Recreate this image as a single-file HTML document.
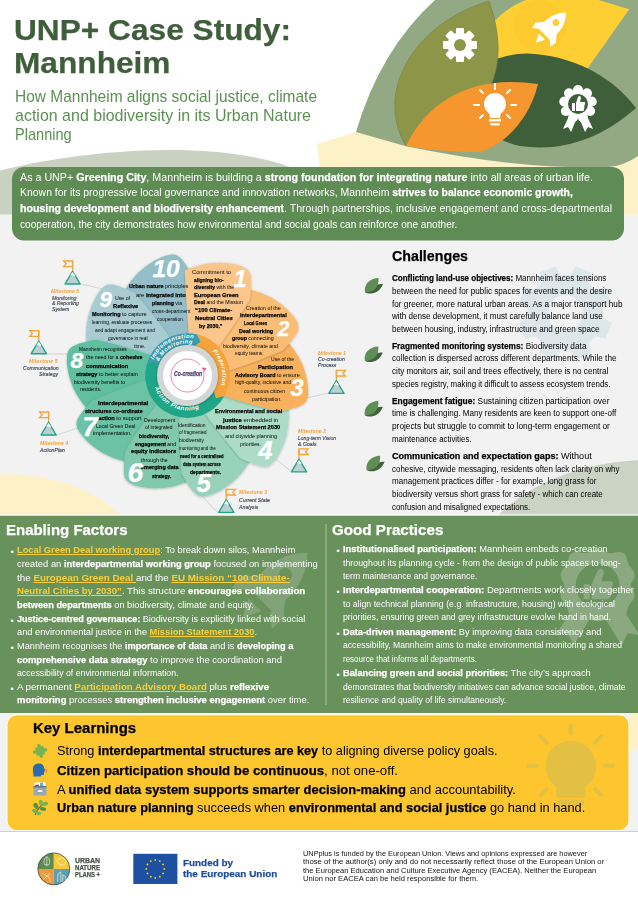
<!DOCTYPE html>
<html><head><meta charset="utf-8">
<style>
*{margin:0;padding:0;box-sizing:border-box}
html,body{width:638px;height:900px;overflow:hidden;background:#fff}
body{position:relative;font-family:"Liberation Sans",sans-serif;color:#111}
.ln{position:absolute;white-space:nowrap;transform-origin:0 0;line-height:1}
b{font-weight:bold;-webkit-text-stroke:0.25px currentColor}
.lk{color:#fccf3a;font-weight:bold;text-decoration:underline;text-decoration-thickness:1px;text-underline-offset:1px}
svg.full{position:absolute;left:0;top:0}
.bul{position:absolute;color:#fff;font-size:9px;line-height:1}
</style></head><body>
<svg class="full" width="638" height="900" viewBox="0 0 638 900">
  <rect x="0" y="214.5" width="638" height="301" fill="#f2f2f2"/>
  <path d="M0 170.5 C60 155 200 135 290 167 L300 214.5 L0 214.5 Z" fill="#c9d1c1"/>
  <path d="M317 144 L356 132 L638 120 L638 214.5 L325 214.5 Z" fill="#fdf1c8"/>
  <path d="M435 0 L638 0 L638 156 Q624 166 608 167 Q520 170 405 146 L356 132 Q380 50 435 0 Z" fill="#93a984"/>
  <ellipse cx="5" cy="560" rx="135" ry="86" fill="#fdf1c8"/>
  <ellipse cx="650" cy="580" rx="180" ry="120" fill="#cbd3c4"/>
  <rect x="0" y="515.5" width="638" height="197.5" fill="#69915c"/>
  <rect x="0" y="514.3" width="638" height="1.2" fill="#fbfbfd"/>
  <rect x="0" y="713" width="638" height="118" fill="#f2f2f2"/>
  <rect x="0" y="830.5" width="638" height="70" fill="#fff"/>
  <path d="M629 713 L638 713 L638 748 L629 753 Z" fill="#fdf1c8"/>
  <rect x="0" y="830.8" width="638" height="1.2" fill="#cfcfcf"/>
  <rect x="7" y="714.8" width="622" height="115.8" rx="10" fill="#fec62e" stroke="#fff" stroke-width="1"/>
  <rect x="12" y="167" width="612" height="73.6" rx="12" fill="#5e8c54"/>
  <line x1="326" y1="524" x2="326" y2="705" stroke="#a9bf9f" stroke-width="1"/>
</svg>
<svg class="full" width="638" height="900" viewBox="0 0 638 900">
  <!-- yellow leaf -->
  <defs><clipPath id="ylc"><path d="M480 40 C495 16 510 6 531 -2 L592 -2 L629.2 9.2 L585 72 L480 80 Z"/></clipPath></defs>
  <path d="M480 40 C495 16 510 6 531 -2 L592 -2 L629.2 9.2 L585 72 L480 80 Z" fill="#fdcf33"/>
  <circle cx="540" cy="26.3" r="26" fill="#fdca2f" clip-path="url(#ylc)"/>
  <!-- dark green leaf -->
  <path d="M470 70 C500 55 520 52 535 54 C580 58 615 80 636 108 C600 140 560 152 520 146 C490 140 470 120 470 70 Z" fill="#3f5e3a"/>
  <!-- olive leaf -->
  <path d="M489 1 C410 25 375 95 406 146 C500 120 510 60 489 1 Z" fill="#8d9549" stroke="#737a3e" stroke-width="0.5"/>
  <!-- orange leaf -->
  <path d="M406 146 C430 95 480 75 538 84 C530 118 505 145 480 152 C455 152 430 150 406 146 Z" fill="#f5962f"/>
  <!-- gear -->
  <g transform="translate(460 45)" fill="#fff">
    <g id="gt">
      <rect x="-4" y="-17" width="8" height="8" rx="1"/>
    </g>
    <g transform="rotate(45)">
      <rect x="-4" y="-17" width="8" height="8" rx="1"/>
    </g><g transform="rotate(90)">
      <rect x="-4" y="-17" width="8" height="8" rx="1"/>
    </g><g transform="rotate(135)">
      <rect x="-4" y="-17" width="8" height="8" rx="1"/>
    </g>
    <g transform="rotate(180)">
      <rect x="-4" y="-17" width="8" height="8" rx="1"/>
    </g><g transform="rotate(225)">
      <rect x="-4" y="-17" width="8" height="8" rx="1"/>
    </g><g transform="rotate(270)">
      <rect x="-4" y="-17" width="8" height="8" rx="1"/>
    </g><g transform="rotate(315)">
      <rect x="-4" y="-17" width="8" height="8" rx="1"/>
    </g>
    <circle r="12.5"/>
    <circle r="6" fill="#8d9549"/>
  </g>
  <!-- rocket -->
  <g transform="translate(550.5 28) rotate(45) scale(1.1)" fill="#fff">
    <path d="M0 -20 C8 -12 9 -2 7 8 L-7 8 C-9 -2 -8 -12 0 -20 Z"/>
    <circle cy="-7" r="3" fill="#fdcf33"/>
    <path d="M-7 -1 L-13 6 L-12 12 L-7 8 Z"/>
    <path d="M7 -1 L13 6 L12 12 L7 8 Z"/>
    <path d="M-4 11 L4 11 L0 19 Z"/>
  </g>
  <!-- bulb -->
  <g transform="translate(495 105)" fill="#fff" stroke="#fff">
    <circle cx="0" cy="-1" r="11" stroke="none"/>
    <path d="M-6 6 L6 6 L5 13 L-5 13 Z" stroke="none"/>
    <rect x="-6" y="14" width="12" height="2.5" stroke="none"/>
    <rect x="-4.5" y="18" width="9" height="2.5" stroke="none"/>
    <g stroke-width="2" stroke-linecap="round">
      <line x1="0" y1="-16" x2="0" y2="-21"/>
      <line x1="-12" y1="-12" x2="-15" y2="-15"/>
      <line x1="12" y1="-12" x2="15" y2="-15"/>
      <line x1="-16" y1="0" x2="-21" y2="0"/>
      <line x1="16" y1="0" x2="21" y2="0"/>
      <line x1="-12" y1="10" x2="-15" y2="13"/>
      <line x1="12" y1="10" x2="15" y2="13"/>
    </g>
  </g>
  <!-- award -->
  <g transform="translate(578 104)" fill="#fff">
    <path d="M-9 12 L-15 25 L-10 23 L-7 28 L-2 16 Z"/>
    <path d="M9 12 L15 25 L10 23 L7 28 L2 16 Z"/>
    <g id="sc"><circle cx="0" cy="-14" r="5"/></g>
    <g transform="rotate(40)"><circle cx="0" cy="-14" r="5"/></g><g transform="rotate(80)"><circle cx="0" cy="-14" r="5"/></g><g transform="rotate(120)"><circle cx="0" cy="-14" r="5"/></g><g transform="rotate(160)"><circle cx="0" cy="-14" r="5"/></g><g transform="rotate(200)"><circle cx="0" cy="-14" r="5"/></g><g transform="rotate(240)"><circle cx="0" cy="-14" r="5"/></g><g transform="rotate(280)"><circle cx="0" cy="-14" r="5"/></g><g transform="rotate(320)"><circle cx="0" cy="-14" r="5"/></g>
    <circle r="14"/>
    <circle r="10" fill="#3f5e3a"/>
    <path d="M-6 -1 L-3 -1 L-3 7 L-6 7 Z M-2 -1 L0 -7 C1 -9 3 -8 3 -6 L2 -2 L6 -2 C7.5 -2 7.5 0 6.5 1 L6 6 C5.5 7 5 7 4 7 L-2 7 Z"/>
  </g>
</svg>
<svg class="full" width="638" height="900" viewBox="0 0 638 900">
<defs><filter id="sh" x="-20%" y="-20%" width="140%" height="140%"><feDropShadow dx="0" dy="0.6" stdDeviation="1.1" flood-color="#000" flood-opacity="0.28"/></filter><filter id="sh2" x="-20%" y="-20%" width="140%" height="140%"><feDropShadow dx="0" dy="0.5" stdDeviation="1.5" flood-color="#000" flood-opacity="0.35"/></filter></defs>
<line x1="81" y1="284" x2="103" y2="289" stroke="#c4c6c6" stroke-width="0.7"/>
<line x1="47" y1="354" x2="68" y2="354" stroke="#c4c6c6" stroke-width="0.7"/>
<line x1="56.4" y1="435" x2="78" y2="428" stroke="#c4c6c6" stroke-width="0.7"/>
<line x1="218" y1="513" x2="200" y2="494" stroke="#c4c6c6" stroke-width="0.7"/>
<line x1="292" y1="472" x2="272" y2="456" stroke="#c4c6c6" stroke-width="0.7"/>
<line x1="328" y1="393" x2="303" y2="399" stroke="#c4c6c6" stroke-width="0.7"/>
<path d="M171.6 350.1 Q142.4 315.6 123.6 292.2 L123.6 292.2 L124.1 291.3 L124.7 290.2 L125.6 288.9 L126.5 287.4 L127.5 285.8 L128.6 284.2 L129.8 282.7 L130.8 281.2 L131.9 279.8 L133.0 278.5 L134.2 277.1 L135.4 275.8 L136.6 274.4 L137.9 273.1 L139.3 271.8 L140.7 270.4 L142.3 269.1 L143.9 267.8 L145.6 266.5 L147.3 265.2 L149.1 263.9 L151.0 262.7 L152.8 261.6 L154.6 260.6 L156.3 259.7 L158.2 258.8 L160.0 257.9 L161.8 257.1 L163.6 256.4 L165.3 255.8 L166.9 255.4 L168.4 255.0 L169.8 254.8 L171.0 254.6 L172.1 254.5 L173.2 254.5 L174.2 254.6 L175.1 254.8 L176.1 255.1 L177.0 255.5 L177.9 255.9 L178.8 256.5 L179.6 257.2 L180.4 258.0 L181.2 258.8 L182.0 259.7 L182.7 260.6 L183.5 261.6 L184.3 262.6 L185.1 263.6 L185.9 264.8 L186.6 266.0 L187.3 267.2 L188.0 268.3 L188.7 269.5 L189.3 270.5 L189.9 271.5 L190.6 272.6 L191.1 273.6 L191.7 274.7 L192.2 275.6 L192.7 276.4 L193.0 277.1 L193.3 277.7 Q196.1 314.1 195.5 334.3 L192.7 346.0 Z" fill="#95bfc8" filter="url(#sh)"/>
<path d="M159.7 364.3 Q115.8 353.6 86.8 345.7 L86.8 345.7 L86.7 344.7 L86.6 343.4 L86.5 341.8 L86.3 340.1 L86.3 338.2 L86.2 336.2 L86.2 334.3 L86.2 332.5 L86.3 330.8 L86.4 329.0 L86.5 327.2 L86.7 325.5 L86.9 323.6 L87.2 321.8 L87.5 319.9 L87.9 318.0 L88.4 316.0 L88.9 314.0 L89.5 311.9 L90.2 309.8 L90.9 307.8 L91.7 305.8 L92.5 303.8 L93.3 301.9 L94.2 300.1 L95.2 298.3 L96.1 296.5 L97.1 294.8 L98.2 293.2 L99.2 291.7 L100.2 290.4 L101.2 289.2 L102.2 288.2 L103.1 287.4 L104.0 286.7 L104.8 286.1 L105.7 285.6 L106.5 285.1 L107.5 284.8 L108.4 284.6 L109.5 284.4 L110.5 284.4 L111.6 284.4 L112.7 284.6 L113.8 284.8 L115.0 285.1 L116.1 285.4 L117.3 285.7 L118.5 286.0 L119.8 286.4 L121.1 286.9 L122.4 287.4 L123.7 287.9 L125.0 288.5 L126.2 289.0 L127.3 289.5 L128.4 290.0 L129.5 290.5 L130.6 291.0 L131.6 291.4 L132.6 291.9 L133.4 292.3 L134.2 292.7 L134.7 292.9 Q158.4 320.8 169.8 337.4 L174.3 348.5 Z" fill="#a9cbd2" filter="url(#sh)"/>
<path d="M158.4 382.8 Q116.6 399.9 88.5 410.5 L88.5 410.5 L87.9 409.8 L87.0 408.8 L86.0 407.6 L84.8 406.3 L83.7 404.8 L82.5 403.3 L81.4 401.7 L80.3 400.2 L79.4 398.8 L78.4 397.3 L77.5 395.8 L76.5 394.3 L75.6 392.7 L74.8 391.0 L73.9 389.3 L73.1 387.5 L72.3 385.7 L71.6 383.7 L70.9 381.7 L70.2 379.6 L69.5 377.5 L69.0 375.4 L68.5 373.3 L68.1 371.3 L67.7 369.3 L67.4 367.3 L67.2 365.3 L67.0 363.4 L66.9 361.5 L66.8 359.6 L66.9 358.0 L67.0 356.4 L67.2 355.0 L67.4 353.8 L67.7 352.7 L68.0 351.7 L68.4 350.8 L68.9 350.0 L69.4 349.2 L70.1 348.4 L70.8 347.7 L71.7 347.0 L72.6 346.4 L73.6 345.9 L74.6 345.4 L75.7 345.0 L76.8 344.5 L77.9 344.1 L79.1 343.6 L80.4 343.2 L81.7 342.8 L83.1 342.5 L84.4 342.2 L85.7 341.9 L87.0 341.6 L88.2 341.3 L89.4 341.1 L90.6 340.8 L91.8 340.6 L92.9 340.3 L93.9 340.1 L94.9 340.0 L95.7 339.8 L96.3 339.7 Q131.8 348.3 150.8 355.1 L161.0 361.4 Z" fill="#5ebf9f" filter="url(#sh)"/>
<path d="M168.2 398.5 Q144.5 436.9 128.0 462.0 L128.0 462.0 L127.1 461.8 L125.8 461.5 L124.2 461.2 L122.5 460.8 L120.7 460.3 L118.9 459.7 L117.0 459.1 L115.3 458.5 L113.7 457.9 L112.1 457.3 L110.4 456.6 L108.8 455.9 L107.1 455.1 L105.4 454.3 L103.7 453.4 L102.0 452.5 L100.3 451.4 L98.5 450.3 L96.8 449.1 L95.0 447.8 L93.2 446.5 L91.6 445.1 L89.9 443.7 L88.4 442.3 L87.0 440.9 L85.6 439.5 L84.2 438.0 L82.9 436.5 L81.7 435.0 L80.6 433.6 L79.6 432.2 L78.8 430.9 L78.1 429.7 L77.6 428.5 L77.2 427.5 L76.9 426.5 L76.7 425.5 L76.5 424.6 L76.5 423.6 L76.6 422.6 L76.7 421.5 L77.0 420.5 L77.4 419.5 L77.9 418.5 L78.5 417.5 L79.1 416.5 L79.7 415.5 L80.4 414.5 L81.1 413.4 L81.9 412.4 L82.7 411.3 L83.6 410.2 L84.5 409.1 L85.4 408.1 L86.3 407.1 L87.1 406.2 L87.9 405.3 L88.7 404.4 L89.5 403.5 L90.3 402.7 L91.0 401.9 L91.7 401.2 L92.2 400.6 L92.7 400.2 Q126.4 386.3 145.8 380.6 L157.8 379.7 Z" fill="#6cc2a5" filter="url(#sh)"/>
<path d="M185.4 405.4 Q188.8 450.5 190.2 480.5 L190.2 480.5 L189.3 480.9 L188.1 481.4 L186.7 482.0 L185.0 482.7 L183.3 483.3 L181.5 484.0 L179.6 484.6 L177.9 485.1 L176.2 485.6 L174.5 486.0 L172.8 486.4 L171.0 486.8 L169.3 487.2 L167.4 487.5 L165.5 487.8 L163.6 488.0 L161.6 488.2 L159.5 488.3 L157.3 488.3 L155.1 488.4 L152.9 488.3 L150.8 488.2 L148.7 488.0 L146.6 487.8 L144.6 487.5 L142.6 487.2 L140.6 486.8 L138.7 486.4 L136.9 485.9 L135.1 485.4 L133.5 484.8 L132.1 484.2 L130.9 483.6 L129.8 483.0 L128.8 482.4 L128.0 481.8 L127.2 481.1 L126.6 480.4 L126.0 479.6 L125.4 478.8 L125.0 477.9 L124.6 476.9 L124.3 475.8 L124.1 474.7 L124.0 473.6 L123.9 472.4 L123.8 471.2 L123.8 470.0 L123.7 468.7 L123.7 467.4 L123.8 466.0 L123.8 464.6 L123.9 463.2 L124.1 461.9 L124.2 460.6 L124.3 459.4 L124.4 458.2 L124.5 457.0 L124.7 455.8 L124.8 454.6 L125.0 453.6 L125.1 452.6 L125.2 451.8 L125.3 451.2 Q144.4 420.1 156.8 404.1 L165.9 396.3 Z" fill="#80c8ae" filter="url(#sh)"/>
<path d="M203.4 400.9 Q232.6 435.4 251.4 458.8 L251.4 458.8 L250.9 459.7 L250.3 460.8 L249.4 462.1 L248.5 463.6 L247.5 465.2 L246.4 466.8 L245.2 468.3 L244.2 469.8 L243.1 471.2 L242.0 472.5 L240.8 473.9 L239.6 475.2 L238.4 476.6 L237.1 477.9 L235.7 479.2 L234.3 480.6 L232.7 481.9 L231.1 483.2 L229.4 484.5 L227.7 485.8 L225.9 487.1 L224.0 488.3 L222.2 489.4 L220.4 490.4 L218.7 491.3 L216.8 492.2 L215.0 493.1 L213.2 493.9 L211.4 494.6 L209.7 495.2 L208.1 495.6 L206.6 496.0 L205.2 496.2 L204.0 496.4 L202.9 496.5 L201.8 496.5 L200.8 496.4 L199.9 496.2 L198.9 495.9 L198.0 495.5 L197.1 495.1 L196.2 494.5 L195.4 493.8 L194.6 493.0 L193.8 492.2 L193.0 491.3 L192.3 490.4 L191.5 489.4 L190.7 488.4 L189.9 487.4 L189.1 486.2 L188.4 485.0 L187.7 483.8 L187.0 482.7 L186.3 481.5 L185.7 480.5 L185.1 479.5 L184.4 478.4 L183.9 477.4 L183.3 476.3 L182.8 475.4 L182.3 474.6 L182.0 473.9 L181.7 473.3 Q178.9 436.9 179.5 416.7 L182.3 405.0 Z" fill="#98d2bb" filter="url(#sh)"/>
<path d="M215.3 386.7 Q259.2 397.4 288.2 405.3 L288.2 405.3 L288.3 406.3 L288.4 407.6 L288.5 409.2 L288.7 410.9 L288.7 412.8 L288.8 414.8 L288.8 416.7 L288.8 418.5 L288.7 420.2 L288.6 422.0 L288.5 423.8 L288.3 425.5 L288.1 427.4 L287.8 429.2 L287.5 431.1 L287.1 433.0 L286.6 435.0 L286.1 437.0 L285.5 439.1 L284.8 441.2 L284.1 443.2 L283.3 445.2 L282.5 447.2 L281.7 449.1 L280.8 450.9 L279.8 452.7 L278.9 454.5 L277.9 456.2 L276.8 457.8 L275.8 459.3 L274.8 460.6 L273.8 461.8 L272.8 462.8 L271.9 463.6 L271.0 464.3 L270.2 464.9 L269.3 465.4 L268.5 465.9 L267.5 466.2 L266.6 466.4 L265.5 466.6 L264.5 466.6 L263.4 466.6 L262.3 466.4 L261.2 466.2 L260.0 465.9 L258.9 465.6 L257.7 465.3 L256.5 465.0 L255.2 464.6 L253.9 464.1 L252.6 463.6 L251.3 463.1 L250.0 462.5 L248.8 462.0 L247.7 461.5 L246.6 461.0 L245.5 460.5 L244.4 460.0 L243.4 459.6 L242.4 459.1 L241.6 458.7 L240.8 458.3 L240.3 458.1 Q216.6 430.2 205.2 413.6 L200.7 402.5 Z" fill="#acdbc8" filter="url(#sh)"/>
<path d="M216.6 368.2 Q258.4 351.1 286.5 340.5 L286.5 340.5 L287.1 341.2 L288.0 342.2 L289.0 343.4 L290.2 344.7 L291.3 346.2 L292.5 347.7 L293.6 349.3 L294.7 350.8 L295.6 352.2 L296.6 353.7 L297.5 355.2 L298.5 356.7 L299.4 358.3 L300.2 360.0 L301.1 361.7 L301.9 363.5 L302.7 365.3 L303.4 367.3 L304.1 369.3 L304.8 371.4 L305.5 373.5 L306.0 375.6 L306.5 377.7 L306.9 379.7 L307.3 381.7 L307.6 383.7 L307.8 385.7 L308.0 387.6 L308.1 389.5 L308.2 391.4 L308.1 393.0 L308.0 394.6 L307.8 396.0 L307.6 397.2 L307.3 398.3 L307.0 399.3 L306.6 400.2 L306.1 401.0 L305.6 401.8 L304.9 402.6 L304.2 403.3 L303.3 404.0 L302.4 404.6 L301.4 405.1 L300.4 405.6 L299.3 406.0 L298.2 406.5 L297.1 406.9 L295.9 407.4 L294.6 407.8 L293.3 408.2 L291.9 408.5 L290.6 408.8 L289.3 409.1 L288.0 409.4 L286.8 409.7 L285.6 409.9 L284.4 410.2 L283.2 410.4 L282.1 410.7 L281.1 410.9 L280.1 411.0 L279.3 411.2 L278.7 411.3 Q243.2 402.7 224.2 395.9 L214.0 389.6 Z" fill="#f7b15d" filter="url(#sh)"/>
<path d="M206.8 352.5 Q230.5 314.1 247.0 289.0 L247.0 289.0 L247.9 289.2 L249.2 289.5 L250.8 289.8 L252.5 290.2 L254.3 290.7 L256.1 291.3 L258.0 291.9 L259.7 292.5 L261.3 293.1 L262.9 293.7 L264.6 294.4 L266.2 295.1 L267.9 295.9 L269.6 296.7 L271.3 297.6 L273.0 298.5 L274.7 299.6 L276.5 300.7 L278.2 301.9 L280.0 303.2 L281.8 304.5 L283.4 305.9 L285.1 307.3 L286.6 308.7 L288.0 310.1 L289.4 311.5 L290.8 313.0 L292.1 314.5 L293.3 316.0 L294.4 317.4 L295.4 318.8 L296.2 320.1 L296.9 321.3 L297.4 322.5 L297.8 323.5 L298.1 324.5 L298.3 325.5 L298.5 326.4 L298.5 327.4 L298.4 328.4 L298.3 329.5 L298.0 330.5 L297.6 331.5 L297.1 332.5 L296.5 333.5 L295.9 334.5 L295.3 335.5 L294.6 336.5 L293.9 337.6 L293.1 338.6 L292.3 339.7 L291.4 340.8 L290.5 341.9 L289.6 342.9 L288.7 343.9 L287.9 344.8 L287.1 345.7 L286.3 346.6 L285.5 347.5 L284.7 348.3 L284.0 349.1 L283.3 349.8 L282.8 350.4 L282.3 350.8 Q248.6 364.7 229.2 370.4 L217.2 371.3 Z" fill="#f9bd74" filter="url(#sh)"/>
<path d="M189.6 345.6 Q186.2 300.5 184.8 270.5 L184.8 270.5 L185.7 270.1 L186.9 269.6 L188.3 269.0 L190.0 268.3 L191.7 267.7 L193.5 267.0 L195.4 266.4 L197.1 265.9 L198.8 265.4 L200.5 265.0 L202.2 264.6 L204.0 264.2 L205.7 263.8 L207.6 263.5 L209.5 263.2 L211.4 263.0 L213.4 262.8 L215.5 262.7 L217.7 262.7 L219.9 262.6 L222.1 262.7 L224.2 262.8 L226.3 263.0 L228.4 263.2 L230.4 263.5 L232.4 263.8 L234.4 264.2 L236.3 264.6 L238.1 265.1 L239.9 265.6 L241.5 266.2 L242.9 266.8 L244.1 267.4 L245.2 268.0 L246.2 268.6 L247.0 269.2 L247.8 269.9 L248.4 270.6 L249.0 271.4 L249.6 272.2 L250.0 273.1 L250.4 274.1 L250.7 275.2 L250.9 276.3 L251.0 277.4 L251.1 278.6 L251.2 279.8 L251.2 281.0 L251.3 282.3 L251.3 283.6 L251.2 285.0 L251.2 286.4 L251.1 287.8 L250.9 289.1 L250.8 290.4 L250.7 291.6 L250.6 292.8 L250.5 294.0 L250.3 295.2 L250.2 296.4 L250.0 297.4 L249.9 298.4 L249.8 299.2 L249.7 299.8 Q230.6 330.9 218.2 346.9 L209.1 354.7 Z" fill="#fbc68c" filter="url(#sh)"/>
<circle cx="187.5" cy="375.5" r="43" fill="#fff" opacity="0.0"/>
<path d="M224.5 396.0 A42.3 42.3 0 0 1 146.6 364.6 L154.5 360.8 L158.5 367.7 A30 30 0 0 0 213.7 390.0 L216.0 397.8 Z" fill="#1fa686"/>
<path d="M146.6 364.6 A42.3 42.3 0 0 1 197.0 334.3 L201.0 342.0 L194.2 346.3 A30 30 0 0 0 158.5 367.7 L154.5 360.8 Z" fill="#3a9cb0"/>
<path d="M197.0 334.3 A42.3 42.3 0 0 1 224.5 396.0 L216.0 397.8 L213.7 390.0 A30 30 0 0 0 194.2 346.3 L201.0 342.0 Z" fill="#f5a33b"/>
<circle cx="187.5" cy="375.5" r="30.5" fill="#d3d6d6" filter="url(#sh2)"/>
<circle cx="187.5" cy="375.5" r="24.5" fill="#fff"/>
<path d="M203.0 369.9 A16.5 16.5 0 1 1 200.1 364.9" fill="none" stroke="#e9548a" stroke-width="0.7"/>
<path d="M204.5 370.9 l-3 -3.5 l5 0.5 z" fill="#e9548a" transform="rotate(0)"/>
<g style="font-family:&quot;Liberation Sans&quot;,sans-serif;font-weight:bold;font-style:italic;fill:#fff;font-size:5.6px"><text x="153.85" y="358.95" transform="rotate(-63.81 153.85 358.95)" text-anchor="middle">I</text><text x="155.71" y="355.61" transform="rotate(-57.97 155.71 355.61)" text-anchor="middle">m</text><text x="158.47" y="351.76" transform="rotate(-50.72 158.47 351.76)" text-anchor="middle">p</text><text x="160.49" y="349.49" transform="rotate(-46.07 160.49 349.49)" text-anchor="middle">l</text><text x="162.57" y="347.49" transform="rotate(-41.67 162.57 347.49)" text-anchor="middle">e</text><text x="166.18" y="344.65" transform="rotate(-34.64 166.18 344.65)" text-anchor="middle">m</text><text x="170.11" y="342.27" transform="rotate(-27.62 170.11 342.27)" text-anchor="middle">e</text><text x="173.58" y="340.68" transform="rotate(-21.79 173.58 340.68)" text-anchor="middle">n</text><text x="176.59" y="339.62" transform="rotate(-16.91 176.59 339.62)" text-anchor="middle">t</text><text x="179.53" y="338.86" transform="rotate(-12.26 179.53 338.86)" text-anchor="middle">a</text><text x="182.53" y="338.33" transform="rotate(-7.62 182.53 338.33)" text-anchor="middle">t</text><text x="184.78" y="338.10" transform="rotate(-4.17 184.78 338.10)" text-anchor="middle">i</text><text x="187.81" y="338.00" transform="rotate(0.48 187.81 338.00)" text-anchor="middle">o</text><text x="191.77" y="338.24" transform="rotate(6.54 191.77 338.24)" text-anchor="middle">n</text><text x="159.59" y="359.84" transform="rotate(-60.70 159.59 359.84)" text-anchor="middle">&amp;</text><text x="163.67" y="354.15" transform="rotate(-48.14 163.67 354.15)" text-anchor="middle">M</text><text x="166.96" y="350.96" transform="rotate(-39.92 166.96 350.96)" text-anchor="middle">o</text><text x="170.16" y="348.61" transform="rotate(-32.81 170.16 348.61)" text-anchor="middle">n</text><text x="172.79" y="347.08" transform="rotate(-27.37 172.79 347.08)" text-anchor="middle">i</text><text x="174.83" y="346.11" transform="rotate(-23.32 174.83 346.11)" text-anchor="middle">t</text><text x="177.82" y="345.00" transform="rotate(-17.61 177.82 345.00)" text-anchor="middle">o</text><text x="181.06" y="344.15" transform="rotate(-11.61 181.06 344.15)" text-anchor="middle">r</text><text x="183.44" y="343.76" transform="rotate(-7.28 183.44 343.76)" text-anchor="middle">i</text><text x="186.47" y="343.52" transform="rotate(-1.84 186.47 343.52)" text-anchor="middle">n</text><text x="190.44" y="343.64" transform="rotate(5.27 190.44 343.64)" text-anchor="middle">g</text><text x="213.97" y="352.60" transform="rotate(49.13 213.97 352.60)" text-anchor="middle">P</text><text x="216.13" y="355.36" transform="rotate(54.87 216.13 355.36)" text-anchor="middle">r</text><text x="217.84" y="358.06" transform="rotate(60.11 217.84 358.06)" text-anchor="middle">e</text><text x="219.56" y="361.46" transform="rotate(66.36 219.56 361.46)" text-anchor="middle">p</text><text x="220.90" y="365.04" transform="rotate(72.61 220.90 365.04)" text-anchor="middle">a</text><text x="221.71" y="368.13" transform="rotate(77.84 221.71 368.13)" text-anchor="middle">r</text><text x="222.24" y="371.28" transform="rotate(83.07 222.24 371.28)" text-anchor="middle">a</text><text x="222.48" y="374.31" transform="rotate(88.05 222.48 374.31)" text-anchor="middle">t</text><text x="222.48" y="376.57" transform="rotate(91.75 222.48 376.57)" text-anchor="middle">i</text><text x="222.26" y="379.60" transform="rotate(96.72 222.26 379.60)" text-anchor="middle">o</text><text x="221.57" y="383.51" transform="rotate(103.22 221.57 383.51)" text-anchor="middle">n</text></g>
<g style="font-family:&quot;Liberation Sans&quot;,sans-serif;font-weight:bold;font-style:italic;fill:#fff;font-size:6.2px"><text x="155.35" y="389.34" transform="rotate(66.71 155.35 389.34)" text-anchor="middle">A</text><text x="157.40" y="393.36" transform="rotate(59.32 157.40 393.36)" text-anchor="middle">c</text><text x="159.22" y="396.12" transform="rotate(53.91 159.22 396.12)" text-anchor="middle">t</text><text x="160.72" y="398.04" transform="rotate(49.91 160.72 398.04)" text-anchor="middle">i</text><text x="162.97" y="400.46" transform="rotate(44.50 162.97 400.46)" text-anchor="middle">o</text><text x="166.24" y="403.30" transform="rotate(37.40 166.24 403.30)" text-anchor="middle">n</text><text x="172.00" y="406.88" transform="rotate(26.30 172.00 406.88)" text-anchor="middle">P</text><text x="175.19" y="408.26" transform="rotate(20.60 175.19 408.26)" text-anchor="middle">l</text><text x="178.17" y="409.23" transform="rotate(15.47 178.17 409.23)" text-anchor="middle">a</text><text x="182.24" y="410.10" transform="rotate(8.64 182.24 410.10)" text-anchor="middle">n</text><text x="186.56" y="410.49" transform="rotate(1.54 186.56 410.49)" text-anchor="middle">n</text><text x="189.86" y="410.42" transform="rotate(-3.87 189.86 410.42)" text-anchor="middle">i</text><text x="193.14" y="410.04" transform="rotate(-9.28 193.14 410.04)" text-anchor="middle">n</text><text x="197.37" y="409.08" transform="rotate(-16.38 197.37 409.08)" text-anchor="middle">g</text></g>
<path d="M72.6 261.0 L63.6 261.0 L66.1 263.8 L63.6 266.6 L72.6 266.6 Z" fill="none" stroke="#f5a33b" stroke-width="1.3" stroke-linejoin="miter"/><line x1="72.6" y1="261.0" x2="72.6" y2="271.0" stroke="#f5a33b" stroke-width="1.3"/><path d="M72.6 271.3 L65.0 284.0 L80.2 284.0 Z" fill="#bcd0d3" stroke="#1fa686" stroke-width="1.4" stroke-linejoin="round"/><path d="M72.6 272.1 L70.0 275.8 L72.1 275.1 L73.6 276.3 L75.2 275.8 Z" fill="#fff"/>
<path d="M38.8 330.7 L29.8 330.7 L32.3 333.5 L29.8 336.3 L38.8 336.3 Z" fill="none" stroke="#f5a33b" stroke-width="1.3" stroke-linejoin="miter"/><line x1="38.8" y1="330.7" x2="38.8" y2="340.7" stroke="#f5a33b" stroke-width="1.3"/><path d="M38.8 341.0 L31.2 353.7 L46.4 353.7 Z" fill="#bcd0d3" stroke="#1fa686" stroke-width="1.4" stroke-linejoin="round"/><path d="M38.8 341.8 L36.2 345.5 L38.3 344.8 L39.8 346.0 L41.4 345.5 Z" fill="#fff"/>
<path d="M48.6 412.0 L39.6 412.0 L42.1 414.8 L39.6 417.6 L48.6 417.6 Z" fill="none" stroke="#f5a33b" stroke-width="1.3" stroke-linejoin="miter"/><line x1="48.6" y1="412.0" x2="48.6" y2="422.0" stroke="#f5a33b" stroke-width="1.3"/><path d="M48.6 422.3 L41.0 435.0 L56.2 435.0 Z" fill="#bcd0d3" stroke="#1fa686" stroke-width="1.4" stroke-linejoin="round"/><path d="M48.6 423.1 L46.0 426.8 L48.1 426.1 L49.6 427.3 L51.2 426.8 Z" fill="#fff"/>
<path d="M226.3 489.4 L235.3 489.4 L232.8 492.2 L235.3 495.0 L226.3 495.0 Z" fill="none" stroke="#f5a33b" stroke-width="1.3" stroke-linejoin="miter"/><line x1="226.3" y1="489.4" x2="226.3" y2="499.4" stroke="#f5a33b" stroke-width="1.3"/><path d="M226.3 499.7 L218.7 512.4 L233.9 512.4 Z" fill="#bcd0d3" stroke="#1fa686" stroke-width="1.4" stroke-linejoin="round"/><path d="M226.3 500.5 L223.7 504.2 L225.8 503.5 L227.3 504.7 L228.9 504.2 Z" fill="#fff"/>
<path d="M299.0 448.9 L308.0 448.9 L305.5 451.7 L308.0 454.5 L299.0 454.5 Z" fill="none" stroke="#f5a33b" stroke-width="1.3" stroke-linejoin="miter"/><line x1="299.0" y1="448.9" x2="299.0" y2="458.9" stroke="#f5a33b" stroke-width="1.3"/><path d="M299.0 459.2 L291.4 471.9 L306.6 471.9 Z" fill="#bcd0d3" stroke="#1fa686" stroke-width="1.4" stroke-linejoin="round"/><path d="M299.0 460.0 L296.4 463.7 L298.5 463.0 L300.0 464.2 L301.6 463.7 Z" fill="#fff"/>
<path d="M336.4 370.4 L345.4 370.4 L342.9 373.2 L345.4 376.0 L336.4 376.0 Z" fill="none" stroke="#f5a33b" stroke-width="1.3" stroke-linejoin="miter"/><line x1="336.4" y1="370.4" x2="336.4" y2="380.4" stroke="#f5a33b" stroke-width="1.3"/><path d="M336.4 380.7 L328.8 393.4 L344.0 393.4 Z" fill="#bcd0d3" stroke="#1fa686" stroke-width="1.4" stroke-linejoin="round"/><path d="M336.4 381.5 L333.8 385.2 L335.9 384.5 L337.4 385.7 L339.0 385.2 Z" fill="#fff"/>
</svg><div class="bul" style="left:10.5px;top:548.2px">•</div>
<div class="bul" style="left:10.5px;top:616.8px">•</div>
<div class="bul" style="left:10.5px;top:644.0px">•</div>
<div class="bul" style="left:10.5px;top:684.8px">•</div>
<div class="bul" style="left:336.5px;top:547.0px">•</div>
<div class="bul" style="left:336.5px;top:588.1px">•</div>
<div class="bul" style="left:336.5px;top:629.6px">•</div>
<div class="bul" style="left:336.5px;top:671.0px">•</div>
<svg class="full" width="638" height="900" viewBox="0 0 638 900">
 <defs>
  <g id="leaf2">
   <path d="M0 0 C4 2.5 14 2 18 -8.3 C14 -8.8 9 -7 6 -4 Z" fill="#41623c"/>
   <path d="M0 0 C-1.5 -8 5 -14 13.5 -14.3 C14.5 -5 8 0.5 0 0 Z" fill="#5e8e55"/>
  </g>
  <g id="gearw">
   <path d="M-11 -30 L-8.5 -47 L8.5 -47 L11 -30 Z"/>
  </g>
 </defs>
 <!-- gear watermark challenges -->
 <g transform="translate(565.4 313) rotate(22.5)" fill="#dde7ea">
  <g>
   <path d="M-11 -30 L-8.5 -47 L8.5 -47 L11 -30 Z"/>
  </g><g transform="rotate(45)">
   <path d="M-11 -30 L-8.5 -47 L8.5 -47 L11 -30 Z"/>
  </g><g transform="rotate(90)">
   <path d="M-11 -30 L-8.5 -47 L8.5 -47 L11 -30 Z"/>
  </g><g transform="rotate(135)">
   <path d="M-11 -30 L-8.5 -47 L8.5 -47 L11 -30 Z"/>
  </g><g transform="rotate(180)">
   <path d="M-11 -30 L-8.5 -47 L8.5 -47 L11 -30 Z"/>
  </g><g transform="rotate(225)">
   <path d="M-11 -30 L-8.5 -47 L8.5 -47 L11 -30 Z"/>
  </g><g transform="rotate(270)">
   <path d="M-11 -30 L-8.5 -47 L8.5 -47 L11 -30 Z"/>
  </g><g transform="rotate(315)">
   <path d="M-11 -30 L-8.5 -47 L8.5 -47 L11 -30 Z"/>
  </g>
  <path d="M0 -38 A38 38 0 1 1 0 38 A38 38 0 1 1 0 -38 Z M0 -17.5 A17.5 17.5 0 1 0 0 17.5 A17.5 17.5 0 1 0 0 -17.5 Z" fill-rule="evenodd"/>
 </g>
 <g transform="translate(365 292.3)">
   <path d="M0 0 C4 2.5 14 2 18 -8.3 C14 -8.8 9 -7 6 -4 Z" fill="#41623c"/>
   <path d="M0 0 C-1.5 -8 5 -14 13.5 -14.3 C14.5 -5 8 0.5 0 0 Z" fill="#5e8e55"/>
  </g>
 <g transform="translate(364.8 360.8)">
   <path d="M0 0 C4 2.5 14 2 18 -8.3 C14 -8.8 9 -7 6 -4 Z" fill="#41623c"/>
   <path d="M0 0 C-1.5 -8 5 -14 13.5 -14.3 C14.5 -5 8 0.5 0 0 Z" fill="#5e8e55"/>
  </g>
 <g transform="translate(364.8 415.2)">
   <path d="M0 0 C4 2.5 14 2 18 -8.3 C14 -8.8 9 -7 6 -4 Z" fill="#41623c"/>
   <path d="M0 0 C-1.5 -8 5 -14 13.5 -14.3 C14.5 -5 8 0.5 0 0 Z" fill="#5e8e55"/>
  </g>
 <g transform="translate(366.6 470.1)">
   <path d="M0 0 C4 2.5 14 2 18 -8.3 C14 -8.8 9 -7 6 -4 Z" fill="#41623c"/>
   <path d="M0 0 C-1.5 -8 5 -14 13.5 -14.3 C14.5 -5 8 0.5 0 0 Z" fill="#5e8e55"/>
  </g>
 <!-- rocket watermark enabling -->
 <g transform="translate(272 588) rotate(45) scale(0.75)" fill="#fff" opacity="0.17">
  <path d="M0 -66 C24 -44 28 -12 22 22 L-22 22 C-28 -12 -24 -44 0 -66 Z M0 -34 A9 9 0 1 0 0 -16 A9 9 0 1 0 0 -34 Z" fill-rule="evenodd"/>
  <path d="M-22 -2 L-40 18 L-38 38 L-22 26 Z"/>
  <path d="M22 -2 L40 18 L38 38 L22 26 Z"/>
  <path d="M-12 32 L12 32 L0 56 Z"/>
 </g>
 <!-- award watermark good practices -->
 <g transform="translate(597.6 585.3)" fill="#fff" opacity="0.22">
  <path d="M-24 22 L-42 50 L-30 48 L-24 60 L-8 34 Z M24 22 L42 50 L30 48 L24 60 L8 34 Z"/>
  <path id="scal" d="M0 -36 C6 -36 9 -32 13 -32 C17 -32 21 -35 26 -32 C30 -29 29 -24 31 -21 C33 -17 37 -15 37 -10 C37 -5 33 -3 33 0 C33 3 37 5 37 10 C37 15 33 17 31 21 C29 24 30 29 26 32 C21 35 17 32 13 32 C9 32 6 36 0 36 C-6 36 -9 32 -13 32 C-17 32 -21 35 -26 32 C-30 29 -29 24 -31 21 C-33 17 -37 15 -37 10 C-37 5 -33 3 -33 0 C-33 -3 -37 -5 -37 -10 C-37 -15 -33 -17 -31 -21 C-29 -24 -30 -29 -26 -32 C-21 -35 -17 -32 -13 -32 C-9 -32 -6 -36 0 -36 Z M0 -22 A22 22 0 1 0 0 22 A22 22 0 1 0 0 -22 Z" fill-rule="evenodd"/>
  <path d="M-14 -1 L-8 -1 L-8 14 L-14 14 Z M-6 -1 L0 -14 C2 -18 7 -17 6 -12 L4 -4 L13 -4 C16 -4 16 0 14 2 L13 11 C12 13 11 14 9 14 L-6 14 Z"/>
 </g>
 <!-- lightbulb watermark key learnings -->
 <g transform="translate(570.8 765.8)" fill="#e2c043">
  <path d="M-14.5 21 A25.3 25.3 0 1 1 14.5 21 L14.5 30 C14.5 31 13.5 32 12.5 32 L-12.5 32 C-13.5 32 -14.5 31 -14.5 30 Z"/>
  <rect x="-13.5" y="34" width="27" height="5" rx="2"/>
  <g stroke="#e2c043" stroke-width="4" stroke-linecap="round">
   <line x1="0" y1="-40" x2="0" y2="-32"/>
   <line x1="-42" y1="0" x2="-34" y2="0"/>
   <line x1="34" y1="0" x2="42" y2="0"/>
   <line x1="-30" y1="-29" x2="-24" y2="-23"/>
   <line x1="30" y1="-29" x2="24" y2="-23"/>
   <line x1="-30" y1="29" x2="-24" y2="23"/>
   <line x1="30" y1="29" x2="24" y2="23"/>
  </g>
 </g>
 <!-- key learning icons -->
 <g transform="translate(40.1 750.9) rotate(-12) scale(0.85)">
  <path d="M-5 -5 L-1.6 -5 C-2.6 -6.2 -2.4 -8.4 0 -8.4 C2.4 -8.4 2.6 -6.2 1.6 -5 L5 -5 L5 -1.6 C6.2 -2.6 8.4 -2.4 8.4 0 C8.4 2.4 6.2 2.6 5 1.6 L5 5 L1.6 5 C2.6 6.2 2.4 8.4 0 8.4 C-2.4 8.4 -2.6 6.2 -1.6 5 L-5 5 L-5 1.6 C-6.2 2.6 -8.4 2.4 -8.4 0 C-8.4 -2.4 -6.2 -2.6 -5 -1.6 Z" fill="#77b255"/>
 </g>
 <g transform="translate(39 770)">
  <path d="M-5.5 6.5 C-5.5 3 -6.5 1 -6 -2 C-5.5 -5.5 -2.5 -6.5 0 -6.5 C3 -6.5 5 -4.5 5 -2 L6.5 1 L5 1.5 L5 4 C5 5 4 5 3 5 L2 5 L2 6.5 Z" fill="#2a6bb0"/>
  <path d="M6.5 -1 C8 0 8 2 6.5 3" stroke="#f4900c" stroke-width="1.2" fill="none"/>
 </g>
 <g transform="translate(40 789)">
  <rect x="-5.5" y="-6.5" width="11" height="5" fill="#fff"/>
  <path d="M-5 -4 L-1 -4.5 L-1 -2 L-5 -2 Z" fill="#dd2e44"/>
  <path d="M0 -6 L3 -6.5 L3 -3 L0 -3 Z" fill="#55acee"/>
  <rect x="-6.5" y="-3" width="13" height="9.5" rx="1.5" fill="#99aab5"/>
  <rect x="-6.5" y="-3" width="13" height="1.5" fill="#66757f"/>
  <rect x="-2.8" y="0.5" width="5.6" height="3" rx="0.6" fill="#fff" stroke="#66757f" stroke-width="0.6"/>
 </g>
 <g transform="translate(40 808)">
  <path d="M-5 7 C-3 2 1 -3 6 -6" stroke="#8a5a3a" stroke-width="1.1" fill="none"/>
  <ellipse cx="-4" cy="-2" rx="2.2" ry="3.3" fill="#5c913b" transform="rotate(-30 -4 -2)"/>
  <ellipse cx="1" cy="-5" rx="2" ry="3.2" fill="#77b255" transform="rotate(-10 1 -5)"/>
  <ellipse cx="5" cy="-4" rx="3.2" ry="1.8" fill="#77b255" transform="rotate(-20 5 -4)"/>
  <ellipse cx="-5" cy="3" rx="3" ry="1.8" fill="#77b255" transform="rotate(20 -5 3)"/>
  <ellipse cx="3" cy="1" rx="3.2" ry="1.8" fill="#5c913b" transform="rotate(10 3 1)"/>
  <ellipse cx="-1" cy="5.5" rx="2.5" ry="1.7" fill="#77b255"/>
 </g>
 <!-- UNP logo -->
 <g transform="translate(53.8 868.9)">
  <path d="M0 0 L0 -16 A16 16 0 0 0 -16 0 Z" fill="#5e8a4e"/>
  <path d="M0 0 L16 0 A16 16 0 0 0 0 -16 Z" fill="#f8c93a"/>
  <path d="M0 0 L-16 0 A16 16 0 0 0 0 16 Z" fill="#ee9a3a"/>
  <path d="M0 0 L0 16 A16 16 0 0 0 16 0 Z" fill="#5fa0b0"/>
  <circle r="16" fill="none" stroke="#3d4a3a" stroke-width="0.8"/>
  <g stroke="#fff" stroke-width="0.6" fill="none">
   <path d="M-9 -4 C-11 -7 -9 -12 -7 -12 C-5 -12 -3 -7 -5 -4 Z M-7 -12 L-7 -3"/>
   <path d="M3 -8 C5 -12 11 -12 12 -8 C13 -4 7 -3 5 -5 Z"/>
   <path d="M-12 4 L-5 8 L-3 13 M-10 10 L-4 5"/>
   <path d="M4 13 L4 5 L7 3 L7 13 M9 13 L9 6 L12 8 L12 12"/>
  </g>
 </g>
 <!-- EU flag -->
 <rect x="133.3" y="853.8" width="44.1" height="30.2" fill="#1f4fa0"/>
 <g fill="#ffdd00" transform="translate(155.3 868.9)">
  <circle cx="0" cy="-9" r="0.9"/><circle cx="4.5" cy="-7.8" r="0.9"/><circle cx="7.8" cy="-4.5" r="0.9"/><circle cx="9" cy="0" r="0.9"/><circle cx="7.8" cy="4.5" r="0.9"/><circle cx="4.5" cy="7.8" r="0.9"/><circle cx="0" cy="9" r="0.9"/><circle cx="-4.5" cy="7.8" r="0.9"/><circle cx="-7.8" cy="4.5" r="0.9"/><circle cx="-9" cy="0" r="0.9"/><circle cx="-7.8" cy="-4.5" r="0.9"/><circle cx="-4.5" cy="-7.8" r="0.9"/>
 </g>
</svg>
<div class="ln" id="t1" style="left:14.0px;top:16.45px;font-size:29.00px;color:#3f5f3b;transform:scaleX(1.0913);-webkit-text-stroke:0.7px #3f5f3b;"><b>UNP+ Case Study:</b></div>
<div class="ln" id="t2" style="left:14.0px;top:49.45px;font-size:29.00px;color:#3f5f3b;transform:scaleX(1.0913);-webkit-text-stroke:0.7px #3f5f3b;"><b>Mannheim</b></div>
<div class="ln" id="s1" style="left:15.0px;top:87.61px;font-size:17.00px;color:#5a9150;transform:scaleX(0.9106);">How Mannheim aligns social justice, climate</div>
<div class="ln" id="s2" style="left:15.0px;top:107.11px;font-size:17.00px;color:#5a9150;transform:scaleX(0.9407);">action and biodiversity in its Urban Nature</div>
<div class="ln" id="s3" style="left:15.0px;top:126.11px;font-size:17.00px;color:#5a9150;transform:scaleX(0.8569);">Planning</div>
<div class="ln" id="i1" style="left:20.0px;top:171.69px;font-size:11.00px;color:#fff;transform:scaleX(0.9728);">As a UNP+ <b>Greening City</b>, Mannheim is building a <b>strong foundation for integrating nature</b> into all areas of urban life.</div>
<div class="ln" id="i2" style="left:20.0px;top:187.39px;font-size:11.00px;color:#fff;transform:scaleX(0.9498);">Known for its progressive local governance and innovation networks, Mannheim <b>strives to balance economic growth,</b></div>
<div class="ln" id="i3" style="left:20.0px;top:203.09px;font-size:11.00px;color:#fff;transform:scaleX(0.9600);"><b>housing development and biodiversity enhancement</b>. Through partnerships, inclusive engagement and cross-departmental</div>
<div class="ln" id="i4" style="left:20.0px;top:219.29px;font-size:11.00px;color:#fff;transform:scaleX(0.9182);">cooperation, the city demonstrates how environmental and social goals can reinforce one another.</div>
<div class="ln" id="ch" style="left:392.0px;top:248.77px;font-size:14.80px;color:#000;transform:scaleX(0.9626);-webkit-text-stroke:0.4px currentColor;"><b>Challenges</b></div>
<div class="ln" id="c0" style="left:391.5px;top:273.49px;font-size:9.70px;color:#000;transform:scaleX(0.8279);"><b>Conflicting land-use objectives:</b> Mannheim faces tensions</div>
<div class="ln" id="c1" style="left:391.5px;top:285.99px;font-size:9.70px;color:#000;transform:scaleX(0.8402);">between the need for public spaces for events and the desire</div>
<div class="ln" id="c2" style="left:391.5px;top:298.59px;font-size:9.70px;color:#000;transform:scaleX(0.8476);">for greener, more natural urban areas. As a major transport hub</div>
<div class="ln" id="c3" style="left:391.5px;top:311.19px;font-size:9.70px;color:#000;transform:scaleX(0.8328);">with dense development, it must carefully balance land use</div>
<div class="ln" id="c4" style="left:391.5px;top:323.79px;font-size:9.70px;color:#000;transform:scaleX(0.8346);">between housing, industry, infrastructure and green space</div>
<div class="ln" id="c5" style="left:391.5px;top:340.79px;font-size:9.70px;color:#000;transform:scaleX(0.8561);"><b>Fragmented monitoring systems:</b> Biodiversity data</div>
<div class="ln" id="c6" style="left:391.5px;top:353.49px;font-size:9.70px;color:#000;transform:scaleX(0.8445);">collection is dispersed across different departments. While the</div>
<div class="ln" id="c7" style="left:391.5px;top:366.19px;font-size:9.70px;color:#000;transform:scaleX(0.8398);">city monitors air, soil and trees effectively, there is no central</div>
<div class="ln" id="c8" style="left:391.5px;top:378.79px;font-size:9.70px;color:#000;transform:scaleX(0.8143);">species registry, making it difficult to assess ecosystem trends.</div>
<div class="ln" id="c9" style="left:391.5px;top:395.79px;font-size:9.70px;color:#000;transform:scaleX(0.8688);"><b>Engagement fatigue:</b> Sustaining citizen participation over</div>
<div class="ln" id="c10" style="left:391.5px;top:408.49px;font-size:9.70px;color:#000;transform:scaleX(0.8319);">time is challenging. Many residents are keen to support one-off</div>
<div class="ln" id="c11" style="left:391.5px;top:421.19px;font-size:9.70px;color:#000;transform:scaleX(0.8573);">projects but struggle to commit to long-term engagement or</div>
<div class="ln" id="c12" style="left:391.5px;top:433.79px;font-size:9.70px;color:#000;transform:scaleX(0.8111);">maintenance activities.</div>
<div class="ln" id="c13" style="left:391.5px;top:450.99px;font-size:9.70px;color:#000;transform:scaleX(0.9344);"><b>Communication and expectation gaps:</b> Without</div>
<div class="ln" id="c14" style="left:391.5px;top:463.79px;font-size:9.70px;color:#000;transform:scaleX(0.8188);">cohesive, citywide messaging, residents often lack clarity on why</div>
<div class="ln" id="c15" style="left:391.5px;top:476.39px;font-size:9.70px;color:#000;transform:scaleX(0.8335);">management practices differ - for example, long grass for</div>
<div class="ln" id="c16" style="left:391.5px;top:489.19px;font-size:9.70px;color:#000;transform:scaleX(0.8295);">biodiversity versus short grass for safety - which can create</div>
<div class="ln" id="c17" style="left:391.5px;top:501.79px;font-size:9.70px;color:#000;transform:scaleX(0.8172);">confusion and misaligned expectations.</div>
<div class="ln" id="ef" style="left:5.5px;top:523.33px;font-size:14.50px;color:#fff;transform:scaleX(1.0328);-webkit-text-stroke:0.4px currentColor;"><b>Enabling Factors</b></div>
<div class="ln" id="e0" style="left:17.0px;top:546.13px;font-size:9.30px;color:#fff;transform:scaleX(1.0003);"><span class="lk">Local Green Deal working group</span>: To break down silos, Mannheim</div>
<div class="ln" id="e1" style="left:17.0px;top:559.93px;font-size:9.30px;color:#fff;transform:scaleX(1.0085);">created an <b>interdepartmental working group</b> focused on implementing</div>
<div class="ln" id="e2" style="left:17.0px;top:573.63px;font-size:9.30px;color:#fff;transform:scaleX(1.0558);">the <span class="lk">European Green Deal </span> and the <span class="lk">EU Mission “100 Climate-</span></div>
<div class="ln" id="e3" style="left:17.0px;top:587.33px;font-size:9.30px;color:#fff;transform:scaleX(1.0355);"><span class="lk">Neutral Cities by 2030”</span>. This structure <b>encourages collaboration</b></div>
<div class="ln" id="e4" style="left:17.0px;top:601.03px;font-size:9.30px;color:#fff;transform:scaleX(0.9912);"><b>between departments</b> on biodiversity, climate and equity.</div>
<div class="ln" id="e5" style="left:17.0px;top:614.73px;font-size:9.30px;color:#fff;transform:scaleX(0.9734);"><b>Justice-centred governance:</b> Biodiversity is explicitly linked with social</div>
<div class="ln" id="e6" style="left:17.0px;top:628.33px;font-size:9.30px;color:#fff;transform:scaleX(0.9944);">and environmental justice in the <span class="lk">Mission Statement 2030</span>.</div>
<div class="ln" id="e7" style="left:17.0px;top:641.93px;font-size:9.30px;color:#fff;transform:scaleX(0.9902);">Mannheim recognises the <b>importance of data</b> and is <b>developing a</b></div>
<div class="ln" id="e8" style="left:17.0px;top:655.53px;font-size:9.30px;color:#fff;transform:scaleX(1.0134);"><b>comprehensive data strategy</b> to improve the coordination and</div>
<div class="ln" id="e9" style="left:17.0px;top:669.13px;font-size:9.30px;color:#fff;transform:scaleX(0.9385);">accessibility of environmental information.</div>
<div class="ln" id="e10" style="left:17.0px;top:682.73px;font-size:9.30px;color:#fff;transform:scaleX(1.0368);">A permanent <span class="lk">Participation Advisory Board</span> plus <b>reflexive</b></div>
<div class="ln" id="e11" style="left:17.0px;top:696.33px;font-size:9.30px;color:#fff;transform:scaleX(1.0179);"><b>monitoring</b> processes <b>strengthen inclusive engagement</b> over time.</div>
<div class="ln" id="gp" style="left:332.0px;top:523.33px;font-size:14.50px;color:#fff;transform:scaleX(1.0472);-webkit-text-stroke:0.4px currentColor;"><b>Good Practices</b></div>
<div class="ln" id="g0" style="left:343.0px;top:544.93px;font-size:9.30px;color:#fff;transform:scaleX(1.0061);"><b>Institutionalised participation:</b> Mannheim embeds co-creation</div>
<div class="ln" id="g1" style="left:343.0px;top:558.63px;font-size:9.30px;color:#fff;transform:scaleX(0.9477);">throughout its planning cycle - from the design of public spaces to long-</div>
<div class="ln" id="g2" style="left:343.0px;top:572.33px;font-size:9.30px;color:#fff;transform:scaleX(0.9182);">term maintenance and governance.</div>
<div class="ln" id="g3" style="left:343.0px;top:586.03px;font-size:9.30px;color:#fff;transform:scaleX(1.0278);"><b>Interdepartmental cooperation:</b> Departments work closely together</div>
<div class="ln" id="g4" style="left:343.0px;top:599.73px;font-size:9.30px;color:#fff;transform:scaleX(0.9415);">to align technical planning (e.g. infrastructure, housing) with ecological</div>
<div class="ln" id="g5" style="left:343.0px;top:613.43px;font-size:9.30px;color:#fff;transform:scaleX(0.9360);">priorities, ensuring green and grey infrastructure evolve hand in hand.</div>
<div class="ln" id="g6" style="left:343.0px;top:627.53px;font-size:9.30px;color:#fff;transform:scaleX(0.9922);"><b>Data-driven management:</b> By improving data consistency and</div>
<div class="ln" id="g7" style="left:343.0px;top:641.33px;font-size:9.30px;color:#fff;transform:scaleX(0.9267);">accessibility, Mannheim aims to make environmental monitoring a shared</div>
<div class="ln" id="g8" style="left:343.0px;top:655.03px;font-size:9.30px;color:#fff;transform:scaleX(0.8586);">resource that informs all departments.</div>
<div class="ln" id="g9" style="left:343.0px;top:668.93px;font-size:9.30px;color:#fff;transform:scaleX(0.9960);"><b>Balancing green and social priorities:</b> The city’s approach</div>
<div class="ln" id="g10" style="left:343.0px;top:682.63px;font-size:9.30px;color:#fff;transform:scaleX(0.9127);">demonstrates that biodiversity initiatives can advance social justice, climate</div>
<div class="ln" id="g11" style="left:343.0px;top:696.33px;font-size:9.30px;color:#fff;transform:scaleX(0.9189);">resilience and quality of life simultaneously.</div>
<div class="ln" id="kl" style="left:33.3px;top:720.85px;font-size:14.00px;color:#000;transform:scaleX(1.0686);-webkit-text-stroke:0.4px currentColor;"><b>Key Learnings</b></div>
<div class="ln" id="k0" style="left:57.0px;top:745.47px;font-size:12.20px;color:#000;transform:scaleX(1.0421);">Strong <b>interdepartmental structures are key</b> to aligning diverse policy goals.</div>
<div class="ln" id="k1" style="left:57.0px;top:764.67px;font-size:12.20px;color:#000;transform:scaleX(1.0836);"><b>Citizen participation should be continuous</b>, not one-off.</div>
<div class="ln" id="k2" style="left:57.0px;top:783.67px;font-size:12.20px;color:#000;transform:scaleX(1.0643);">A <b>unified data system supports smarter decision-making</b> and accountability.</div>
<div class="ln" id="k3" style="left:57.0px;top:802.37px;font-size:12.20px;color:#000;transform:scaleX(1.0496);"><b>Urban nature planning</b> succeeds when <b>environmental and social justice</b> go hand in hand.</div>
<div class="ln" id="f1" style="left:183.0px;top:857.67px;font-size:9.60px;color:#1f4e9c;transform:scaleX(1.0309);"><b>Funded by</b></div>
<div class="ln" id="f2" style="left:183.0px;top:869.47px;font-size:9.60px;color:#1f4e9c;transform:scaleX(1.0347);"><b>the European Union</b></div>
<div class="ln" id="d0" style="left:302.8px;top:850.91px;font-size:6.60px;color:#111;transform:scaleX(1.1161);">UNPplus is funded by the European Union. Views and opinions expressed are however</div>
<div class="ln" id="d1" style="left:302.8px;top:859.21px;font-size:6.60px;color:#111;transform:scaleX(1.1689);">those of the author(s) only and do not necessarily reflect those of the European Union or</div>
<div class="ln" id="d2" style="left:302.8px;top:867.51px;font-size:6.60px;color:#111;transform:scaleX(1.1476);">the European Education and Culture Executive Agency (EACEA). Neither the European</div>
<div class="ln" id="d3" style="left:302.8px;top:875.81px;font-size:6.60px;color:#111;transform:scaleX(1.1545);">Union nor EACEA can be held responsible for them.</div>
<div class="ln" id="u1" style="left:75.0px;top:858.08px;font-size:6.40px;color:#4a5548;transform:scaleX(1.0833);"><b>URBAN</b></div>
<div class="ln" id="u2" style="left:75.0px;top:865.18px;font-size:6.40px;color:#4a5548;transform:scaleX(0.9558);"><b>NATURE</b></div>
<div class="ln" id="u3" style="left:75.0px;top:872.28px;font-size:6.40px;color:#4a5548;transform:scaleX(0.9201);"><b>PLANS +</b></div>
<div class="ln" id="p10_0" style="left:129.3px;top:282.92px;font-size:6.00px;color:#000;transform:scaleX(0.9229);"><b>Urban nature</b> principles</div>
<div class="ln" id="p10_1" style="left:135.5px;top:292.02px;font-size:6.00px;color:#000;transform:scaleX(0.9574);">are <b>integrated into</b></div>
<div class="ln" id="p10_2" style="left:152.4px;top:300.22px;font-size:6.00px;color:#000;transform:scaleX(0.8764);"><b>planning</b> via</div>
<div class="ln" id="p10_3" style="left:151.5px;top:307.82px;font-size:6.00px;color:#000;transform:scaleX(0.8246);">cross-department</div>
<div class="ln" id="p10_4" style="left:157.0px;top:315.82px;font-size:6.00px;color:#000;transform:scaleX(0.8295);">cooperation.</div>
<div class="ln" id="p9_0" style="left:114.8px;top:294.62px;font-size:6.00px;color:#000;transform:scaleX(0.8649);">Use of</div>
<div class="ln" id="p9_1" style="left:113.0px;top:302.62px;font-size:6.00px;color:#000;transform:scaleX(0.9598);"><b>Reflexive</b></div>
<div class="ln" id="p9_2" style="left:92.2px;top:310.82px;font-size:6.00px;color:#000;transform:scaleX(0.9198);"><b>Monitoring</b> to capture</div>
<div class="ln" id="p9_3" style="left:92.2px;top:318.62px;font-size:6.00px;color:#000;transform:scaleX(0.7881);">learning, evaluate processes</div>
<div class="ln" id="p9_4" style="left:95.0px;top:326.82px;font-size:6.00px;color:#000;transform:scaleX(0.8160);">and adapt engagement and</div>
<div class="ln" id="p9_5" style="left:108.2px;top:334.62px;font-size:6.00px;color:#000;transform:scaleX(0.8000);">governance in real</div>
<div class="ln" id="p9_6" style="left:133.6px;top:342.62px;font-size:6.00px;color:#000;transform:scaleX(0.8682);">time.</div>
<div class="ln" id="p8_0" style="left:78.8px;top:345.62px;font-size:6.00px;color:#000;transform:scaleX(0.8143);">Mannheim recognises</div>
<div class="ln" id="p8_1" style="left:85.9px;top:354.22px;font-size:6.00px;color:#000;transform:scaleX(0.8759);">the need for a <b>cohesive</b></div>
<div class="ln" id="p8_2" style="left:85.9px;top:362.82px;font-size:6.00px;color:#000;transform:scaleX(0.9539);"><b>communication</b></div>
<div class="ln" id="p8_3" style="left:75.7px;top:370.62px;font-size:6.00px;color:#000;transform:scaleX(0.9141);"><b>strategy</b> to better explain</div>
<div class="ln" id="p8_4" style="left:73.8px;top:378.62px;font-size:6.00px;color:#000;transform:scaleX(0.8623);">biodiversity benefits to</div>
<div class="ln" id="p8_5" style="left:79.6px;top:386.32px;font-size:6.00px;color:#000;transform:scaleX(0.8149);">residents.</div>
<div class="ln" id="p7_0" style="left:97.8px;top:400.22px;font-size:6.00px;color:#000;transform:scaleX(0.9904);"><b>Interdepartmental</b></div>
<div class="ln" id="p7_1" style="left:85.3px;top:407.62px;font-size:6.00px;color:#000;transform:scaleX(0.9060);"><b>structures co-ordinate</b></div>
<div class="ln" id="p7_2" style="left:97.8px;top:415.22px;font-size:6.00px;color:#000;transform:scaleX(0.9472);"><b>action</b> to support</div>
<div class="ln" id="p7_3" style="left:96.3px;top:422.62px;font-size:6.00px;color:#000;transform:scaleX(0.8372);">Local Green Deal</div>
<div class="ln" id="p7_4" style="left:92.8px;top:430.32px;font-size:6.00px;color:#000;transform:scaleX(0.9113);">implementation.</div>
<div class="ln" id="p6_0" style="left:144.4px;top:416.62px;font-size:6.00px;color:#000;transform:scaleX(0.8795);">Development</div>
<div class="ln" id="p6_1" style="left:145.4px;top:424.22px;font-size:6.00px;color:#000;transform:scaleX(0.8274);">of integrated</div>
<div class="ln" id="p6_2" style="left:139.4px;top:432.82px;font-size:6.00px;color:#000;transform:scaleX(0.8623);"><b>biodiversity,</b></div>
<div class="ln" id="p6_3" style="left:135.4px;top:440.82px;font-size:6.00px;color:#000;transform:scaleX(0.8739);"><b>engagement</b> and</div>
<div class="ln" id="p6_4" style="left:131.4px;top:448.32px;font-size:6.00px;color:#000;transform:scaleX(0.9393);"><b>equity indicators</b></div>
<div class="ln" id="p6_5" style="left:141.4px;top:456.82px;font-size:6.00px;color:#000;transform:scaleX(0.8762);">through the</div>
<div class="ln" id="p6_6" style="left:141.4px;top:464.42px;font-size:6.00px;color:#000;transform:scaleX(0.9167);"><b>emerging data</b></div>
<div class="ln" id="p6_7" style="left:151.5px;top:472.92px;font-size:6.00px;color:#000;transform:scaleX(0.7730);"><b>strategy.</b></div>
<div class="ln" id="p5_0" style="left:178.0px;top:421.62px;font-size:6.00px;color:#000;transform:scaleX(0.8189);">Identification</div>
<div class="ln" id="p5_1" style="left:179.0px;top:429.32px;font-size:6.00px;color:#000;transform:scaleX(0.7453);">of fragmented</div>
<div class="ln" id="p5_2" style="left:179.0px;top:436.82px;font-size:6.00px;color:#000;transform:scaleX(0.8329);">biodiversity</div>
<div class="ln" id="p5_3" style="left:179.0px;top:445.32px;font-size:6.00px;color:#000;transform:scaleX(0.7364);">monitoring and the</div>
<div class="ln" id="p5_4" style="left:179.5px;top:452.82px;font-size:6.00px;color:#000;transform:scaleX(0.7045);"><b>need for a centralised</b></div>
<div class="ln" id="p5_5" style="left:183.0px;top:460.92px;font-size:6.00px;color:#000;transform:scaleX(0.6768);"><b>data system across</b></div>
<div class="ln" id="p5_6" style="left:189.6px;top:468.92px;font-size:6.00px;color:#000;transform:scaleX(0.8252);"><b>departments.</b></div>
<div class="ln" id="p4_0" style="left:214.6px;top:408.22px;font-size:6.00px;color:#000;transform:scaleX(0.9245);"><b>Environmental and social</b></div>
<div class="ln" id="p4_1" style="left:223.2px;top:416.62px;font-size:6.00px;color:#000;transform:scaleX(0.9948);"><b>justice</b> embedded in</div>
<div class="ln" id="p4_2" style="left:215.6px;top:424.22px;font-size:6.00px;color:#000;transform:scaleX(0.9437);"><b>Mission Statement 2030</b></div>
<div class="ln" id="p4_3" style="left:224.7px;top:432.82px;font-size:6.00px;color:#000;transform:scaleX(0.9081);">and citywide planning</div>
<div class="ln" id="p4_4" style="left:239.7px;top:440.82px;font-size:6.00px;color:#000;transform:scaleX(0.8668);">priorities.</div>
<div class="ln" id="p3_0" style="left:271.0px;top:355.62px;font-size:6.00px;color:#000;transform:scaleX(0.8443);">Use of the</div>
<div class="ln" id="p3_1" style="left:257.9px;top:364.02px;font-size:6.00px;color:#000;transform:scaleX(0.9658);"><b>Participation</b></div>
<div class="ln" id="p3_2" style="left:234.9px;top:371.62px;font-size:6.00px;color:#000;transform:scaleX(0.9065);"><b>Advisory Board</b> to ensure</div>
<div class="ln" id="p3_3" style="left:234.9px;top:379.42px;font-size:6.00px;color:#000;transform:scaleX(0.8189);">high-quality, inclusive and</div>
<div class="ln" id="p3_4" style="left:243.8px;top:387.62px;font-size:6.00px;color:#000;transform:scaleX(0.8553);">continuous citizen</div>
<div class="ln" id="p3_5" style="left:251.7px;top:396.02px;font-size:6.00px;color:#000;transform:scaleX(0.8727);">participation.</div>
<div class="ln" id="p2_0" style="left:245.8px;top:304.82px;font-size:6.00px;color:#000;transform:scaleX(0.8816);">Creation of the</div>
<div class="ln" id="p2_1" style="left:240.3px;top:312.42px;font-size:6.00px;color:#000;transform:scaleX(0.9213);"><b>interdepartmental</b></div>
<div class="ln" id="p2_2" style="left:243.6px;top:319.62px;font-size:6.00px;color:#000;transform:scaleX(0.6659);"><b>Local Green</b></div>
<div class="ln" id="p2_3" style="left:239.2px;top:327.82px;font-size:6.00px;color:#000;transform:scaleX(0.9131);"><b>Deal working</b></div>
<div class="ln" id="p2_4" style="left:231.6px;top:335.02px;font-size:6.00px;color:#000;transform:scaleX(0.8742);"><b>group</b> connecting</div>
<div class="ln" id="p2_5" style="left:222.8px;top:342.52px;font-size:6.00px;color:#000;transform:scaleX(0.8633);">biodiversity, climate and</div>
<div class="ln" id="p2_6" style="left:234.9px;top:350.22px;font-size:6.00px;color:#000;transform:scaleX(0.7986);">equity teams.</div>
<div class="ln" id="p1_0" style="left:192.0px;top:268.62px;font-size:6.00px;color:#000;transform:scaleX(0.9585);">Commitment to</div>
<div class="ln" id="p1_1" style="left:194.3px;top:276.62px;font-size:6.00px;color:#000;transform:scaleX(0.8298);"><b>aligning bio-</b></div>
<div class="ln" id="p1_2" style="left:193.6px;top:283.92px;font-size:6.00px;color:#000;transform:scaleX(0.8545);"><b>diversity</b> with the</div>
<div class="ln" id="p1_3" style="left:193.6px;top:291.62px;font-size:6.00px;color:#000;transform:scaleX(0.9553);"><b>European Green</b></div>
<div class="ln" id="p1_4" style="left:193.6px;top:299.32px;font-size:6.00px;color:#000;transform:scaleX(0.8672);"><b>Deal</b> and the Mission</div>
<div class="ln" id="p1_5" style="left:195.0px;top:306.92px;font-size:6.00px;color:#000;transform:scaleX(0.9698);"><b>“100 Climate-</b></div>
<div class="ln" id="p1_6" style="left:195.4px;top:315.32px;font-size:6.00px;color:#000;transform:scaleX(0.9745);"><b>Neutral Cities</b></div>
<div class="ln" id="p1_7" style="left:199.3px;top:323.42px;font-size:6.00px;color:#000;transform:scaleX(0.8806);"><b>by 2030.”</b></div>
<div class="ln" id="n10" style="left:152.5px;top:256.81px;font-size:24.44px;color:#fff;"><b><i>10</i></b></div>
<div class="ln" id="n9" style="left:99.4px;top:288.58px;font-size:22.35px;color:#fff;"><b><i>9</i></b></div>
<div class="ln" id="n8" style="left:70.5px;top:349.11px;font-size:22.91px;color:#fff;"><b><i>8</i></b></div>
<div class="ln" id="n7" style="left:82.3px;top:412.85px;font-size:27.93px;color:#fff;"><b><i>7</i></b></div>
<div class="ln" id="n6" style="left:127.6px;top:457.80px;font-size:28.35px;color:#fff;"><b><i>6</i></b></div>
<div class="ln" id="n5" style="left:196.4px;top:470.93px;font-size:25.84px;color:#fff;"><b><i>5</i></b></div>
<div class="ln" id="n4" style="left:258.2px;top:438.33px;font-size:25.84px;color:#fff;"><b><i>4</i></b></div>
<div class="ln" id="n3" style="left:290.4px;top:377.40px;font-size:23.74px;color:#fff;"><b><i>3</i></b></div>
<div class="ln" id="n2" style="left:277.5px;top:318.89px;font-size:21.51px;color:#fff;"><b><i>2</i></b></div>
<div class="ln" id="n1" style="left:233.5px;top:267.72px;font-size:23.60px;color:#fff;"><b><i>1</i></b></div>
<div class="ln" id="m6_0" style="left:51.3px;top:289.09px;font-size:5.80px;color:#f5a33b;transform:scaleX(0.8930);font-weight:bold;"><i>Milestone 6</i></div>
<div class="ln" id="m6_1" style="left:51.8px;top:295.89px;font-size:5.80px;color:#3b4656;transform:scaleX(0.9048);font-weight:normal;-webkit-text-stroke:0.15px #3b4656;"><i>Monitoring</i></div>
<div class="ln" id="m6_2" style="left:51.8px;top:301.39px;font-size:5.80px;color:#3b4656;transform:scaleX(0.8784);font-weight:normal;-webkit-text-stroke:0.15px #3b4656;"><i>&amp; Reporting</i></div>
<div class="ln" id="m6_3" style="left:51.8px;top:307.09px;font-size:5.80px;color:#3b4656;transform:scaleX(0.8899);font-weight:normal;-webkit-text-stroke:0.15px #3b4656;"><i>System</i></div>
<div class="ln" id="m5_0" style="left:28.9px;top:359.49px;font-size:5.80px;color:#f5a33b;transform:scaleX(0.9057);font-weight:bold;"><i>Milestone 5</i></div>
<div class="ln" id="m5_1" style="left:22.5px;top:366.09px;font-size:5.80px;color:#3b4656;transform:scaleX(0.8863);font-weight:normal;-webkit-text-stroke:0.15px #3b4656;"><i>Communication</i></div>
<div class="ln" id="m5_2" style="left:39.1px;top:371.99px;font-size:5.80px;color:#3b4656;transform:scaleX(0.8845);font-weight:normal;-webkit-text-stroke:0.15px #3b4656;"><i>Strategy</i></div>
<div class="ln" id="m4_0" style="left:39.9px;top:441.39px;font-size:5.80px;color:#f5a33b;transform:scaleX(0.8899);font-weight:bold;"><i>Milestone 4</i></div>
<div class="ln" id="m4_1" style="left:39.9px;top:448.29px;font-size:5.80px;color:#3b4656;transform:scaleX(0.8983);font-weight:normal;-webkit-text-stroke:0.15px #3b4656;"><i>ActionPlan</i></div>
<div class="ln" id="m3_0" style="left:239.0px;top:490.39px;font-size:5.80px;color:#f5a33b;transform:scaleX(0.8867);font-weight:bold;"><i>Milestone 3</i></div>
<div class="ln" id="m3_1" style="left:239.0px;top:498.09px;font-size:5.80px;color:#3b4656;transform:scaleX(0.8990);font-weight:normal;-webkit-text-stroke:0.15px #3b4656;"><i>Current State</i></div>
<div class="ln" id="m3_2" style="left:239.0px;top:505.29px;font-size:5.80px;color:#3b4656;transform:scaleX(0.9030);font-weight:normal;-webkit-text-stroke:0.15px #3b4656;"><i>Analysis</i></div>
<div class="ln" id="m2_0" style="left:298.0px;top:429.09px;font-size:5.80px;color:#f5a33b;transform:scaleX(0.8867);font-weight:bold;"><i>Milestone 2</i></div>
<div class="ln" id="m2_1" style="left:298.0px;top:435.99px;font-size:5.80px;color:#3b4656;transform:scaleX(0.8692);font-weight:normal;-webkit-text-stroke:0.15px #3b4656;"><i>Long-term Vision</i></div>
<div class="ln" id="m2_2" style="left:298.0px;top:441.99px;font-size:5.80px;color:#3b4656;transform:scaleX(0.8970);font-weight:normal;-webkit-text-stroke:0.15px #3b4656;"><i>&amp; Goals</i></div>
<div class="ln" id="m1_0" style="left:317.6px;top:351.29px;font-size:5.80px;color:#f5a33b;transform:scaleX(0.8835);font-weight:bold;"><i>Milestone 1</i></div>
<div class="ln" id="m1_1" style="left:317.6px;top:357.09px;font-size:5.80px;color:#3b4656;transform:scaleX(0.8976);font-weight:normal;-webkit-text-stroke:0.15px #3b4656;"><i>Co-creation</i></div>
<div class="ln" id="m1_2" style="left:317.6px;top:362.99px;font-size:5.80px;color:#3b4656;transform:scaleX(0.8782);font-weight:normal;-webkit-text-stroke:0.15px #3b4656;"><i>Process</i></div>
<div class="ln" id="cocr" style="left:173.6px;top:371.04px;font-size:6.80px;color:#4a3a6a;transform:scaleX(0.7467);"><b><i>Co-creation</i></b></div>
</body></html>
